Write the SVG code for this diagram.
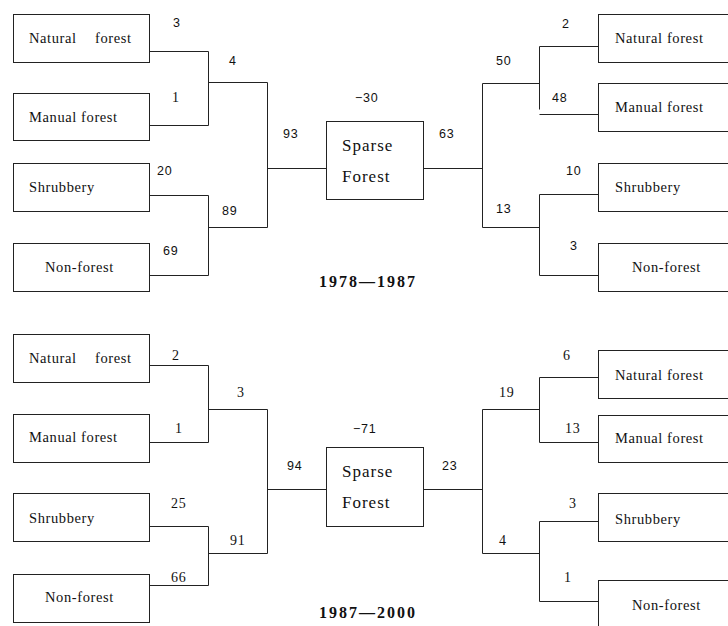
<svg xmlns="http://www.w3.org/2000/svg" width="728" height="626" viewBox="0 0 728 626">
<style>
.box{fill:#fff;stroke:#222;stroke-width:1}
.ln{fill:none;stroke:#222;stroke-width:1}
.lbl{font-family:"Liberation Serif","Times New Roman",serif;font-size:14.5px;letter-spacing:0.6px;fill:#111}
.big{font-family:"Liberation Serif","Times New Roman",serif;font-size:17px;letter-spacing:1px;fill:#111}
.num{font-family:"Liberation Sans",Arial,sans-serif;font-size:12.5px;letter-spacing:0.8px;fill:#111}
.nums{font-family:"Liberation Serif","Times New Roman",serif;font-size:14px;letter-spacing:0.8px;fill:#111}
.title{font-family:"Liberation Serif","Times New Roman",serif;font-size:16px;font-weight:bold;letter-spacing:2px;fill:#111}
</style>
<rect width="728" height="626" fill="#fff"/>
<g id="connectors">
<path class="ln" d="M149.5 51.5H208.5V125.5H149.5M208.5 82.5H267.5V227.5H208.5M149.5 195.5H208.5V275.5H149.5M267.5 168.5H326.5"/>
<path class="ln" d="M423.5 168.5H482.5M482.5 83.5V227.5M482.5 83.5H539.5M539.5 46.5V109.5M539.5 46.5H598.5M539.5 114.5H598.5M482.5 227.5H539.5M539.5 194.5V275.5M539.5 194.5H598.5M539.5 275.5H598.5"/>
<path class="ln" d="M149.5 365.5H208.5V442.5H149.5M208.5 409.5H267.5V553.5H208.5M149.5 526.5H208.5V585.5H149.5M267.5 489.5H326.5"/>
<path class="ln" d="M423.5 489.5H482.5M482.5 409.5V553.5M482.5 409.5H539.5M539.5 377.5V442.5M539.5 377.5H598.5M539.5 442.5H598.5M482.5 553.5H539.5M539.5 521.5V601.5M539.5 521.5H598.5M539.5 601.5H598.5"/>
</g>
<g id="top-left-natural"><rect class="box" x="13.5" y="14.5" width="136" height="48"/><text class="lbl" x="29" y="43">Natural<tspan x="95">forest</tspan></text></g>
<g id="top-left-manual"><rect class="box" x="13.5" y="93.5" width="136" height="47"/><text class="lbl" x="29" y="122">Manual forest</text></g>
<g id="top-left-shrub"><rect class="box" x="13.5" y="163.5" width="136" height="48"/><text class="lbl" x="29" y="192">Shrubbery</text></g>
<g id="top-left-non"><rect class="box" x="13.5" y="243.5" width="136" height="48"/><text class="lbl" x="45" y="272">Non-forest</text></g>
<g id="top-sparse"><rect class="box" x="326.5" y="121.5" width="97" height="78"/><text class="big" x="342" y="151">Sparse</text><text class="big" x="342" y="182">Forest</text></g>
<g id="top-right-natural"><rect class="box" x="598.5" y="14.5" width="140" height="48"/><text class="lbl" x="615" y="43">Natural forest</text></g>
<g id="top-right-manual"><rect class="box" x="598.5" y="83.5" width="140" height="48"/><text class="lbl" x="615" y="112">Manual forest</text></g>
<g id="top-right-shrub"><rect class="box" x="598.5" y="163.5" width="140" height="48"/><text class="lbl" x="615" y="192">Shrubbery</text></g>
<g id="top-right-non"><rect class="box" x="598.5" y="243.5" width="140" height="48"/><text class="lbl" x="632" y="272">Non-forest</text></g>

<g id="bot-left-natural"><rect class="box" x="13.5" y="334.5" width="136" height="48"/><text class="lbl" x="29" y="363">Natural<tspan x="95">forest</tspan></text></g>
<g id="bot-left-manual"><rect class="box" x="13.5" y="414.5" width="136" height="48"/><text class="lbl" x="29" y="442">Manual forest</text></g>
<g id="bot-left-shrub"><rect class="box" x="13.5" y="493.5" width="136" height="48"/><text class="lbl" x="29" y="523">Shrubbery</text></g>
<g id="bot-left-non"><rect class="box" x="13.5" y="574.5" width="136" height="48"/><text class="lbl" x="45" y="602">Non-forest</text></g>
<g id="bot-sparse"><rect class="box" x="326.5" y="447.5" width="97" height="79"/><text class="big" x="342" y="477">Sparse</text><text class="big" x="342" y="508">Forest</text></g>
<g id="bot-right-natural"><rect class="box" x="598.5" y="350.5" width="140" height="48"/><text class="lbl" x="615" y="380">Natural forest</text></g>
<g id="bot-right-manual"><rect class="box" x="598.5" y="415.5" width="140" height="47"/><text class="lbl" x="615" y="443">Manual forest</text></g>
<g id="bot-right-shrub"><rect class="box" x="598.5" y="493.5" width="140" height="48"/><text class="lbl" x="615" y="524">Shrubbery</text></g>
<g id="bot-right-non"><rect class="box" x="598.5" y="580.5" width="140" height="60"/><text class="lbl" x="632" y="610">Non-forest</text></g>

<g id="labels">
<text class="num" x="173" y="27">3</text>
<text class="num" x="229" y="65">4</text>
<text class="nums" x="172" y="102">1</text>
<text class="num" x="283" y="138">93</text>
<text class="num" x="157" y="175">20</text>
<text class="num" x="222" y="215">89</text>
<text class="num" x="163" y="255">69</text>
<text class="num" x="355" y="102">−30</text>
<text class="num" x="439" y="138">63</text>
<text class="num" x="562" y="28">2</text>
<text class="num" x="496" y="65">50</text>
<text class="num" x="552" y="102">48</text>
<text class="num" x="566" y="175">10</text>
<text class="num" x="496" y="213">13</text>
<text class="num" x="570" y="250">3</text>
<text class="title" x="319" y="287">1978—1987</text>

<text class="nums" x="172" y="360">2</text>
<text class="nums" x="237" y="397">3</text>
<text class="nums" x="175" y="433">1</text>
<text class="num" x="287" y="470">94</text>
<text class="nums" x="171" y="508">25</text>
<text class="nums" x="230" y="545">91</text>
<text class="nums" x="171" y="582">66</text>
<text class="num" x="353" y="433">−71</text>
<text class="num" x="442" y="470">23</text>
<text class="nums" x="563" y="360">6</text>
<text class="nums" x="499" y="397">19</text>
<text class="nums" x="565" y="433">13</text>
<text class="nums" x="569" y="508">3</text>
<text class="nums" x="499" y="545">4</text>
<text class="nums" x="564" y="582">1</text>
<text class="title" x="319" y="618">1987—2000</text>
</g>
</svg>
